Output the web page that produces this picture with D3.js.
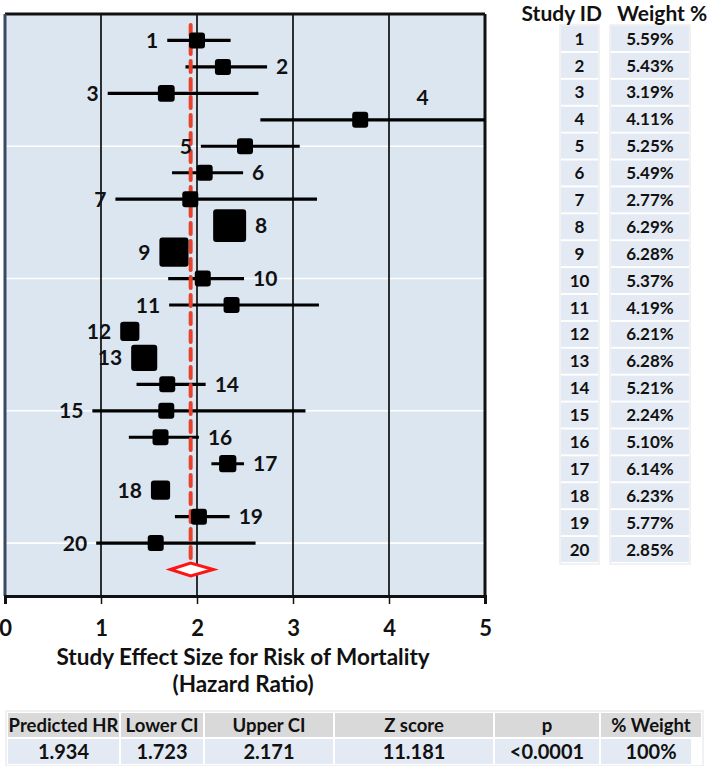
<!DOCTYPE html>
<html><head><meta charset="utf-8">
<script src="https://cdn.jsdelivr.net/npm/d3@7"></script>
<style>
body{margin:0;background:#fff;}
svg{display:block;font-family:Lato,"Open Sans",sans-serif;font-weight:700;}
</style>
</head><body>
<svg id="c" width="713" height="766"></svg>
<script>
// ---------------- data ----------------
const studies   = [1,2,3,4,5,6,7,8,9,10,11,12,13,14,15,16,17,18,19,20];
const hr        = [2.00,2.27,1.68,3.70,2.50,2.08,1.93,2.34,1.76,2.06,2.36,1.30,1.45,1.69,1.68,1.62,2.32,1.62,2.02,1.57];
const lowerCI   = [1.69,1.88,1.07,2.66,2.04,1.74,1.15,null,null,1.70,1.71,null,null,1.37,0.91,1.29,2.15,null,1.77,0.95];
const upperCI   = [2.35,2.73,2.64,5.00,3.07,2.48,3.25,null,null,2.49,3.27,null,null,2.09,3.13,2.02,2.49,null,2.34,2.61];
const boxRel    = [1,1,1.05,1,1,1,1,2.06,1.82,1,1,1.2,1.63,1,1,1,1.08,1.2,1,1];
const weights   = ["5.59%","5.43%","3.19%","4.11%","5.25%","5.49%","2.77%","6.29%","6.28%","5.37%",
                   "4.19%","6.21%","6.28%","5.21%","2.24%","5.10%","6.14%","6.23%","5.77%","2.85%"];
const labelSide = ["L","R","L","T","L","R","L","R","L","R","L","L","L","R","L","R","R","L","R","L"];
const pooledHR = 1.934, pooledLower = 1.723, pooledUpper = 2.171;
const xTicks = [0,1,2,3,4,5];
const summaryHeaders = ["Predicted HR","Lower CI","Upper CI","Z score","p","% Weight"];
const summaryValues  = ["1.934","1.723","2.171","11.181","<0.0001","100%"];
const tableHeaders = ["Study ID","Weight %"];

// ---------------- layout ----------------
const svg = d3.select("#c");
const x = d3.scaleLinear().domain([0,5]).range([5,485]);
const y = d3.scaleLinear().domain([0,22]).range([14,596]);
const box = d3.scaleLinear().domain([0,1]).range([0,16]);
const rows = studies.map((s,i)=>({id:s,hr:hr[i],lo:lowerCI[i],hi:upperCI[i],b:boxRel[i],w:weights[i],side:labelSide[i]}));

// plot background
svg.append("rect").attr("x",x(0)).attr("y",y(0)).attr("width",x(5)-x(0)).attr("height",y(22)-y(0)).attr("fill","#dce6f1");

// white horizontal gridlines
svg.append("g").selectAll("line").data([5,10,15,20]).join("line")
  .attr("x1",x(0)).attr("x2",x(5)).attr("y1",d=>y(d)).attr("y2",d=>y(d))
  .attr("stroke","#fff").attr("stroke-width",1.6);

// black vertical gridlines
svg.append("g").selectAll("line").data([1,2,3,4]).join("line")
  .attr("x1",d=>x(d)).attr("x2",d=>x(d)).attr("y1",y(0)).attr("y2",y(22))
  .attr("stroke","#000").attr("stroke-width",1.6);

// frame
svg.append("line").attr("x1",x(0)).attr("x2",x(5)).attr("y1",y(0)).attr("y2",y(0)).attr("stroke","#111").attr("stroke-width",3);
svg.append("line").attr("x1",x(5)).attr("x2",x(5)).attr("y1",y(0)).attr("y2",y(22)).attr("stroke","#111").attr("stroke-width",3);
svg.append("line").attr("x1",x(0)).attr("x2",x(0)).attr("y1",y(0)).attr("y2",y(22)).attr("stroke","#3b4a63").attr("stroke-width",3);

// x axis
const xAxis = d3.axisBottom(x).tickValues(xTicks).tickSize(8).tickFormat(d3.format("d"));
const ax = svg.append("g").attr("transform",`translate(0,${y(22)})`).call(xAxis);
ax.select(".domain").attr("stroke","#111").attr("stroke-width",3);
ax.selectAll(".tick line").attr("stroke","#111").attr("stroke-width",1.5);
ax.selectAll(".tick text").attr("font-size",22).attr("font-family","Lato").attr("font-weight",700)
  .attr("fill","#111").attr("y",24).attr("dy","0.71em");

svg.append("text").attr("x",x(2.48)).attr("y",665).attr("text-anchor","middle")
  .attr("font-size",22.5).attr("fill","#111").text("Study Effect Size for Risk of Mortality");
svg.append("text").attr("x",x(2.48)).attr("y",692).attr("text-anchor","middle")
  .attr("font-size",22.5).attr("fill","#111").text("(Hazard Ratio)");

// CI lines
svg.append("g").selectAll("line").data(rows.filter(r=>r.lo!==null)).join("line")
  .attr("x1",r=>x(r.lo)).attr("x2",r=>x(Math.min(r.hi,5))).attr("y1",r=>y(r.id)).attr("y2",r=>y(r.id))
  .attr("stroke","#000").attr("stroke-width",3.2);

// red dashed pooled line
svg.append("line").attr("x1",x(pooledHR)).attr("x2",x(pooledHR)).attr("y1",y(0.42)).attr("y2",y(20.75))
  .attr("stroke","#e8412c").attr("stroke-width",4).attr("stroke-dasharray","11,7").attr("stroke-linecap","round");

// squares
svg.append("g").selectAll("rect").data(rows).join("rect")
  .attr("x",r=>x(r.hr)-box(r.b)/2).attr("y",r=>y(r.id)-box(r.b)/2)
  .attr("width",r=>box(r.b)).attr("height",r=>box(r.b)).attr("rx",3).attr("fill","#000");

// labels
svg.append("g").selectAll("text").data(rows).join("text")
  .attr("font-size",21).attr("fill","#111")
  .attr("text-anchor",r=>r.side==="L"?"end":(r.side==="R"?"start":"middle"))
  .attr("x",r=>{
    const half = box(r.b)/2;
    if(r.side==="L") return Math.min(r.lo!==null?x(r.lo):Infinity, x(r.hr)-half)-9;
    if(r.side==="R") return Math.max(r.hi!==null?x(r.hi):-Infinity, x(r.hr)+half)+9;
    return x((r.hr+x.domain()[1])/2);
  })
  .attr("y",r=>r.side==="T"?y(r.id-0.85):y(r.id)).attr("dy","0.36em")
  .text(r=>r.id);

// pooled diamond
const yd = y(21);
svg.append("path")
  .attr("d",`M${x(pooledLower)},${yd} L${x(pooledHR)},${yd-6.5} L${x(pooledUpper)},${yd} L${x(pooledHR)},${yd+6.5} Z`)
  .attr("fill","#fff").attr("stroke","#ff1414").attr("stroke-width",3).attr("stroke-linejoin","miter");

// ---------------- right table ----------------
const ry = d3.scaleBand().domain(studies).range([26,562]).paddingInner(0.07);
const cols = [{x0:561,x1:598},{x0:611,x1:689}];
cols.forEach(c=>{
  svg.append("rect").attr("x",c.x0-1).attr("y",25).attr("width",c.x1-c.x0+2).attr("height",539)
    .attr("fill","#fff").attr("stroke","#e4e4e4").attr("stroke-width",1);
});
const tg = svg.append("g");
rows.forEach(r=>{
  cols.forEach((c,ci)=>{
    tg.append("rect").attr("x",c.x0).attr("y",ry(r.id)).attr("width",c.x1-c.x0).attr("height",ry.bandwidth()).attr("fill","#e4eaf3");
    tg.append("text").attr("x",(c.x0+c.x1)/2).attr("y",ry(r.id)+ry.bandwidth()/2).attr("dy","0.36em")
      .attr("text-anchor","middle").attr("font-size",17).attr("fill","#111").text(ci===0?r.id:r.w);
  });
});
svg.append("text").attr("x",602).attr("y",13).attr("dy","0.36em").attr("text-anchor","end").attr("font-size",21).attr("fill","#111").text(tableHeaders[0]);
svg.append("text").attr("x",617).attr("y",13).attr("dy","0.36em").attr("text-anchor","start").attr("font-size",21).attr("fill","#111").text(tableHeaders[1]);

// ---------------- bottom summary table ----------------
const edges = [7,120,204,334,494,600,702];
svg.append("rect").attr("x",6).attr("y",711).attr("width",697).attr("height",55).attr("fill","#fff").attr("stroke","#e2e2e2");
const sg = svg.append("g");
summaryHeaders.forEach((h,i)=>{
  const x0 = edges[i]+1, x1 = edges[i+1]-1;
  sg.append("rect").attr("x",x0).attr("y",713).attr("width",x1-x0).attr("height",24).attr("fill","#d9d9d9");
  sg.append("text").attr("x",(x0+x1)/2).attr("y",725).attr("dy","0.36em").attr("text-anchor","middle")
    .attr("font-size",18.5).attr("fill","#111").text(h);
  const vx1 = i===summaryHeaders.length-1 ? x1-10 : x1;
  sg.append("rect").attr("x",x0).attr("y",739).attr("width",vx1-x0).attr("height",25).attr("fill","#e4eaf4");
  sg.append("text").attr("x",(x0+x1)/2).attr("y",752).attr("dy","0.36em").attr("text-anchor","middle")
    .attr("font-size",20).attr("fill","#111").text(summaryValues[i]);
});
</script>
</body></html>
